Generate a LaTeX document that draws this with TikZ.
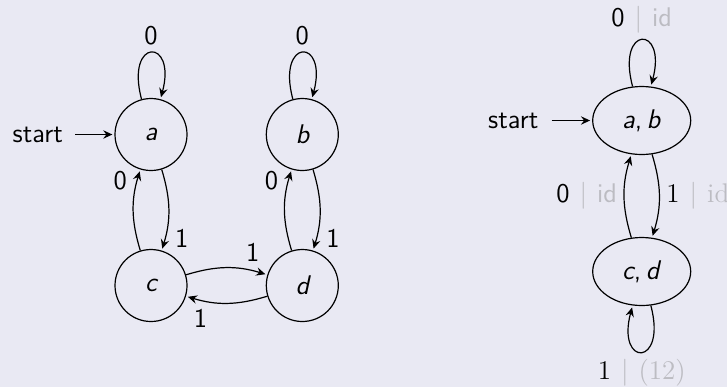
\documentclass[tikz,border=0pt]{standalone}
\usetikzlibrary{shapes.geometric,arrows.meta}
\renewcommand{\familydefault}{\sfdefault}
\definecolor{bg}{RGB}{233,233,243}
\definecolor{dim}{RGB}{188,188,194}
% label of the form "input | output", output dimmed
\newcommand{\io}[2]{#1\hspace{5pt}{\color{dim}|\hspace{5pt}#2}}

\begin{document}
\begin{tikzpicture}[x=0.5pt, y=-0.5pt,
  >={Stealth[length=4.6pt, width=4.2pt, inset=1.6pt]}, line width=0.6pt,
  every node/.style={font=\fontsize{13.5pt}{16pt}\selectfont},
  st/.style={circle, draw, minimum size=36pt, inner sep=0pt},
  est/.style={ellipse, draw, minimum width=49pt, minimum height=34pt, inner sep=0pt},
  every loop/.style={min distance=32pt},
  tr/.style={->, shorten >=1pt}]

\fill[bg] (0,0) rectangle (727,387);
\useasboundingbox (0,0) rectangle (727,387);

% four-state machine
\node[st] (a) at (151,134.5) {\itshape a};
\node[st] (b) at (302.3,134.5) {\itshape b};
\node[st] (c) at (151,285.5) {\itshape c};
\node[st] (d) at (302.3,285.5) {\itshape d};

\node[anchor=east, inner sep=0pt] (s1) at (63.5,134.5) {start};
\draw[->, shorten <=5.8pt, shorten >=1pt] (s1) -- (a);

\path[tr]
  (a) edge[loop above] node[above] {0} ()
  (b) edge[loop above] node[above] {0} ()
  (a) edge[bend left=17] node[auto, pos=0.66] {1} (c)
  (c) edge[bend left=17] node[auto, pos=0.66] {0} (a)
  (b) edge[bend left=17] node[auto, pos=0.66] {1} (d)
  (d) edge[bend left=17] node[auto, pos=0.66] {0} (b)
  (c) edge[bend left=17] node[auto, pos=0.66] {1} (d)
  (d) edge[bend left=17] node[auto, pos=0.66] {1} (c);

% quotient machine
\node[est] (ab) at (641.7,120.5) {\textit{a},\,\textit{b}};
\node[est] (cd) at (641.7,271.5) {\textit{c},\,\textit{d}};

\node[anchor=east, inner sep=0pt] (s2) at (539,120.5) {start};
\draw[->, shorten <=6.3pt, shorten >=1pt] (s2) -- (ab);

\path[tr]
  (ab) edge[loop above] node[above] {\io{0}{id}} ()
  (cd) edge[loop below] node[below] {\io{\rmfamily 1}{\rmfamily (12)}} ()
  (ab) edge[bend left=17] node[auto] {\io{\rmfamily 1}{id}} (cd)
  (cd) edge[bend left=17] node[auto] {\io{0}{id}} (ab);
\end{tikzpicture}
\end{document}
